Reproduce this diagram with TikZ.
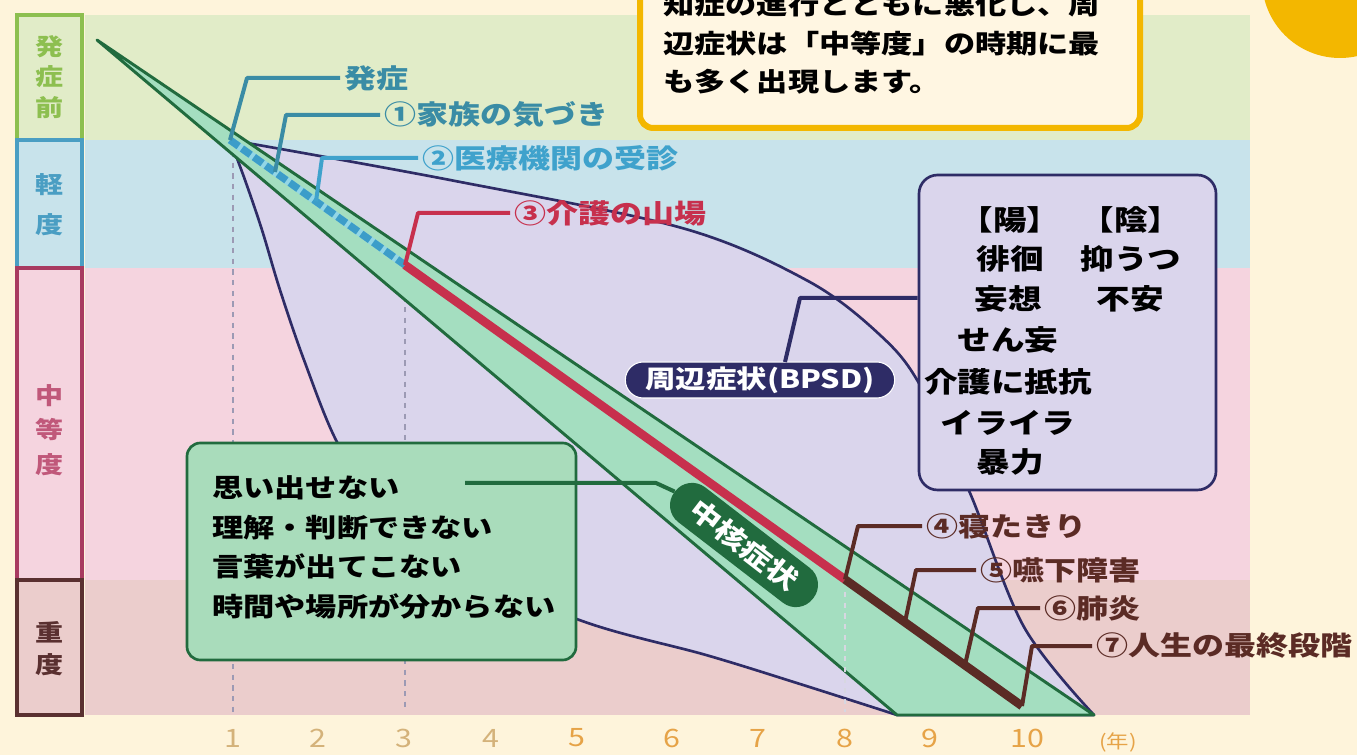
\documentclass[tikz,border=0pt]{standalone}
\usepackage{fontspec}
\setmainfont{Noto Sans CJK JP}[FakeStretch=1.2]
\usetikzlibrary{calc}
\definecolor{bg}{HTML}{FEF4DB}
\definecolor{b0}{HTML}{E1ECC8}
\definecolor{b1}{HTML}{C8E3EB}
\definecolor{b2}{HTML}{F5D4DF}
\definecolor{b3}{HTML}{EBCDCC}
\definecolor{c0}{HTML}{8DBF50}
\definecolor{c1}{HTML}{4A9EC3}
\definecolor{c2}{HTML}{A83A60}
\definecolor{c2t}{HTML}{C0587A}
\definecolor{c3}{HTML}{5A3030}
\definecolor{lav}{HTML}{DAD5EC}
\definecolor{navy}{HTML}{2E2C66}
\definecolor{gfill}{HTML}{A4DEC0}
\definecolor{gdark}{HTML}{216B3E}
\definecolor{gbox}{HTML}{A9DCBB}
\definecolor{redl}{HTML}{C7304D}
\definecolor{brownl}{HTML}{5B2B25}
\definecolor{bluel}{HTML}{3C9DC9}
\definecolor{bluelt}{HTML}{92D6E6}
\definecolor{teal}{HTML}{3A8CA5}
\definecolor{blue2}{HTML}{3FA2CC}
\definecolor{gold}{HTML}{F3B700}
\definecolor{cfill}{HTML}{FFF6E2}
\definecolor{axa}{HTML}{D4B27A}
\definecolor{axb}{HTML}{E6A347}
\definecolor{dotc}{HTML}{9C9AB4}
\newcommand\fsz[2]{\fontsize{#1}{#2}\selectfont}
\begin{document}
\begin{tikzpicture}[x=0.75pt,y=-0.75pt,
  lead/.style={line width=3pt, line join=round, line cap=butt},
  lab/.style={anchor=west, inner xsep=3pt, inner ysep=0pt, font=\fsz{20}{24}\bfseries},
  bt/.style={inner sep=0pt, font=\fsz{21}{24}\bfseries},
  colbox/.style={line width=3pt},
  vlab/.style={align=center, inner sep=0pt},
  dotline/.style={dotc, line width=1.3pt, dash pattern=on 4pt off 4pt},
  axnum/.style={inner sep=0pt, font=\fsz{19}{22}}
]
\clip (0,0) rectangle (1357,755);
\fill[bg] (0,0) rectangle (1357,755);
% stage bands
\fill[b0] (85,15) rectangle (1250,140);
\fill[b1] (85,140) rectangle (1250,268);
\fill[b2] (85,268) rectangle (1250,580);
\fill[b3] (85,580) rectangle (1250,715);
% left column
\draw[colbox, draw=c0, fill=b0] (17,15) rectangle (82,140);
\draw[colbox, draw=c1, fill=b1] (17,140) rectangle (82,268);
\draw[colbox, draw=c2, fill=b2] (17,268) rectangle (82,580);
\draw[colbox, draw=c3, fill=b3] (17,580) rectangle (82,715);
\node[vlab, text=c0, font=\fsz{17.5}{23}\bfseries] (s0) at (50,77) {発\\症\\前};
\node[vlab, text=c1, font=\fsz{17.5}{30}\bfseries] (s1) at (50,205) {軽\\度};
\node[vlab, text=c2t, font=\fsz{17.5}{26}\bfseries] (s2) at (50,430) {中\\等\\度};
\node[vlab, text=c3, font=\fsz{17.5}{24}\bfseries] (s3) at (50,649) {重\\度};
% BPSD envelope
\filldraw[fill=lav, draw=navy, line width=2pt, line join=round]
  (230,140) -- plot[smooth, tension=0.55] coordinates {(230,140) (450,180) (682,228) (808,281) (880,335) (920,385) (970,493) (1024,627) (1094,715)}
  -- (897,715)
  -- plot[smooth, tension=0.55] coordinates {(897,715) (800,684) (706,655) (585,622) (450,565) (380,505) (337,442) (304,360) (280,290) (262,230) (245,180) (230,140)}
  -- cycle;
% dotted year marks
\draw[dotline] (233,152) -- (233,712);
\draw[dotline] (405,275) -- (405,712);
% core symptom band
\filldraw[fill=gfill, draw=gdark, line width=2.2pt, line join=round] (97,40) -- (1094,715) -- (897,715) -- cycle;
\draw[dotline, draw=white!60!dotc] (845,592) -- (845,712);
% progression line
\coordinate (p0) at (230,140);
\coordinate (p1) at (275,172);
\coordinate (p2) at (316,201.5);
\coordinate (p3) at (405,265);
\coordinate (p8) at (845,579.5);
\coordinate (p9) at (905,622);
\coordinate (p95) at (965,665);
\coordinate (p10) at (1022,706);
\draw[bluelt, line width=5.5pt] (p0) -- (p3);
\draw[bluel, line width=5.5pt, dash pattern=on 8pt off 3pt] (p0) -- (p3);
\draw[redl, line width=6.5pt] (p3) -- (p8);
\draw[brownl, line width=6.5pt] (p8) -- (p10);
% leaders and labels
\node[lab, text=teal] (t0) at (340,78) {発症};
\draw[lead, teal] (p0) -- (247,78) -- (t0.west);
\node[lab, text=teal] (t1) at (380,115) {①家族の気づき};
\draw[lead, teal] (p1) -- (286,115) -- (t1.west);
\node[lab, text=blue2] (t2) at (418,158) {②医療機関の受診};
\draw[lead, blue2] (p2) -- (322,158) -- (t2.west);
\node[lab, text=redl] (t3) at (510,213) {③介護の山場};
\draw[lead, redl] (p3) -- (418,213) -- (t3.west);
\node[lab, text=brownl] (t4) at (922,526) {④寝たきり};
\draw[lead, brownl] (p8) -- (858,526) -- (t4.west);
\node[lab, text=brownl] (t5) at (976,570) {⑤嚥下障害};
\draw[lead, brownl] (p9) -- (916,570) -- (t5.west);
\node[lab, text=brownl] (t6) at (1040,608) {⑥肺炎};
\draw[lead, brownl] (p95) -- (978,608) -- (t6.west);
\node[lab, text=brownl] (t7) at (1092,646) {⑦人生の最終段階};
\draw[lead, brownl] (p10) -- (1032,646) -- (t7.west);
% core symptoms box
\node[draw=gdark, fill=gbox, line width=2pt, rounded corners=10pt,
      minimum width=291.75pt, minimum height=162.75pt, inner sep=0pt] (gb) at (381.5,551.5) {};
\node[anchor=west, align=left, inner sep=0pt, font=\fsz{19.5}{29.6}\bfseries] (gbt) at (212,547.5)
  {思い出せない\\理解・判断できない\\言葉が出てこない\\時間や場所が分からない};
\node[fill=gdark, text=white, rotate=-37.6, minimum width=131pt, minimum height=33pt,
      rounded corners=16pt, inner sep=0pt, font=\fsz{20}{24}\bfseries] (core) at (744,545) {中核症状};
\coordinate (gl) at (465,483);
\draw[lead, gdark] (gl) -- (656,483) -- (core.west);
% BPSD box
\node[draw=navy, fill=lav, line width=2pt, rounded corners=14pt,
      minimum width=222.75pt, minimum height=236.25pt, inner sep=0pt] (bx) at (1067.5,332.5) {};
\node[bt] (y1) at (1010,220) {【陽】};
\node[bt] (y2) at (1131,220) {【陰】};
\node[bt] (y3) at (1010,259) {徘徊};
\node[bt] (y4) at (1131,259) {抑うつ};
\node[bt] (y5) at (1008,299) {妄想};
\node[bt] (y6) at (1130,299) {不安};
\node[bt] (y7) at (1008,340) {せん妄};
\node[bt] (y8) at (1008,382) {介護に抵抗};
\node[bt] (y9) at (1008,423) {イライラ};
\node[bt] (y10) at (1010,462) {暴力};
\node[draw=white, line width=0.8pt, fill=navy, text=white, minimum width=202pt, minimum height=27pt,
      rounded corners=13.5pt, inner sep=0pt, font=\fsz{19}{22}\bfseries] (pill) at (760,380) {周辺症状(BPSD)};
\coordinate (pl) at (785,362);
\draw[lead, navy] (pl) -- (800,298) -- (bx.west |- 0,298);
% top callout
\node[draw=gold, line width=4.5pt, fill=cfill, rounded corners=10pt,
      minimum width=375pt, minimum height=126pt, inner sep=0pt] (cb) at (890,44) {};
\node[anchor=west, align=left, inner sep=0pt, font=\fsz{19.5}{28.9}\bfseries] (cbt) at (663,43.5)
  {知症の進行とともに悪化し、周\\辺症状は「中等度」の時期に最\\も多く出現します。};
% corner badge
\fill[gold] (1340,-20) circle (78);
% axis
\node[axnum, text=axa] (n1) at (233,738) {1};
\node[axnum, text=axa] (n2) at (318,738) {2};
\node[axnum, text=axa] (n3) at (404,738) {3};
\node[axnum, text=axa] (n4) at (491,738) {4};
\node[axnum, text=axb] (n5) at (577,738) {5};
\node[axnum, text=axb] (n6) at (672,738) {6};
\node[axnum, text=axb] (n7) at (758,738) {7};
\node[axnum, text=axb] (n8) at (845,738) {8};
\node[axnum, text=axb] (n9) at (930,738) {9};
\node[axnum, text=axb] (n10) at (1027,738) {10};
\node[axnum, text=axb, font=\fsz{14}{16}] (ny) at (1118,742) {(年)};
\end{tikzpicture}
\end{document}
